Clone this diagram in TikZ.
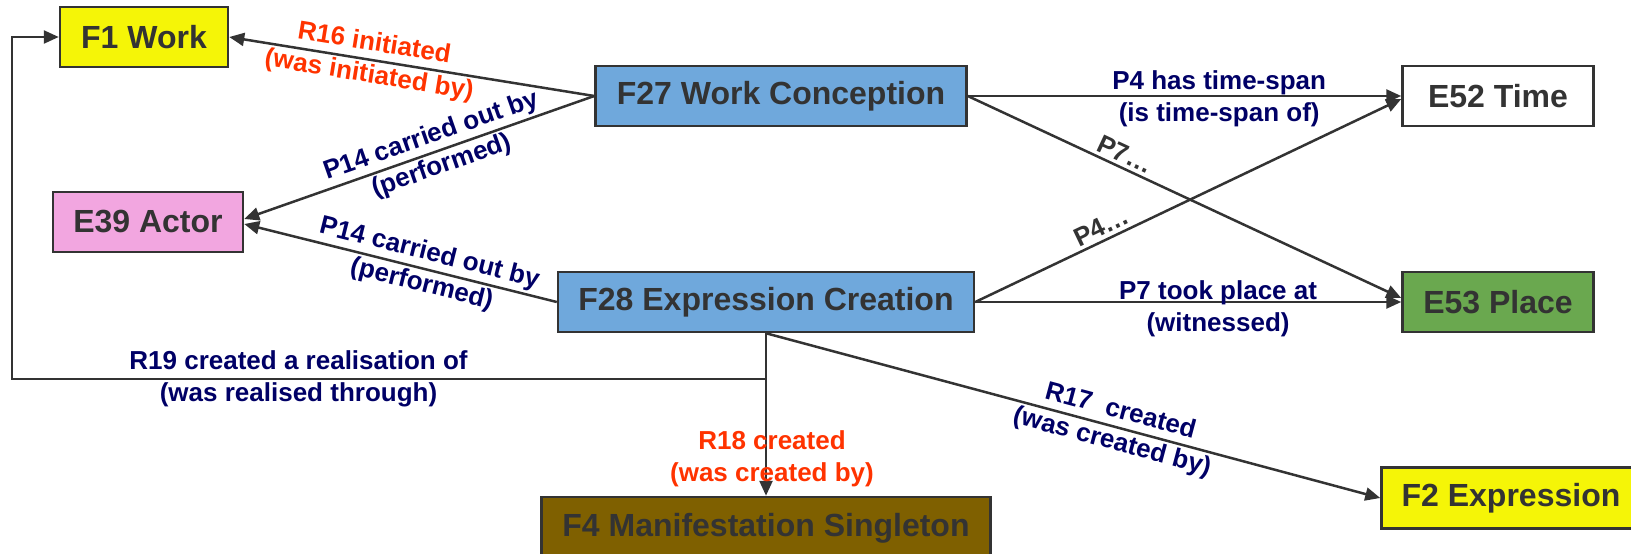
\documentclass[tikz,border=0pt]{standalone}
\usepackage{fontspec}
\setmainfont{Liberation Sans}
\usetikzlibrary{arrows.meta}

\definecolor{boxtext}{HTML}{333333}
\definecolor{navy}{HTML}{000066}
\definecolor{redorange}{HTML}{FF3300}
\definecolor{workyellow}{HTML}{F5F507}
\definecolor{actorpink}{HTML}{F2A6E0}
\definecolor{eventblue}{HTML}{6FA8DC}
\definecolor{placegreen}{HTML}{6AA84F}
\definecolor{manibrown}{HTML}{7F6000}

\begin{document}
\begin{tikzpicture}[x=1pt, y=-1pt,
  box/.style={draw=boxtext, line width=2.5pt, text=boxtext, inner sep=0pt,
    minimum height=60pt, font=\fontsize{32}{36}\selectfont\bfseries},
  rel/.style={text=navy, align=center, font=\fontsize{26}{32}\selectfont\bfseries},
  arr/.style={draw=boxtext, line width=2.5pt, -{Triangle[length=15pt,width=13pt]}}]

% Frame
\useasboundingbox (0,0) rectangle (1631,554);

% Classes
\node[box, fill=workyellow, minimum width=168pt] (F1) at (144,37) {F1 Work};
\node[box, fill=actorpink, minimum width=190pt] (E39) at (148,222) {E39 Actor};
\node[box, fill=eventblue, minimum width=371pt] (F27) at (781,96) {F27 Work Conception};
\node[box, fill=eventblue, minimum width=416pt] (F28) at (766,302) {F28 Expression Creation};
\node[box, fill=white, minimum width=191pt] (E52) at (1498,96) {E52 Time};
\node[box, fill=placegreen, minimum width=191pt] (E53) at (1498,302) {E53 Place};
\node[box, fill=manibrown, minimum width=449pt, minimum height=62pt] (F4) at (766,528) {F4 Manifestation Singleton};
\node[box, fill=workyellow, minimum width=259pt, minimum height=61pt] (F2) at (1511,498) {F2 Expression};

% Work conception
\draw[arr] (F27.west) -- (F1.east)
  node[rel, text=redorange, sloped, pos=0.61] (r16) {R16 initiated\\(was initiated by)};
\draw[arr] (F27.west) -- ([yshift=3pt]E39.east)
  node[rel, sloped, pos=0.45] (p14a) {P14 carried out by\\(performed)};
\draw[arr] (F27.east) -- (E52.west)
  node[rel, pos=0.58, yshift=-3pt] (p4a) {P4 has time-span\\(is time-span of)};
\draw[arr] (F27.east) -- ([yshift=4pt]E53.west)
  node[rel, text=boxtext, sloped, above, pos=0.35] (p7b) {P7\ldots};

% Expression creation
\draw[arr] (F28.west) -- ([yshift=-2pt]E39.east)
  node[rel, sloped, pos=0.42] (p14b) {P14 carried out by\\(performed)};
\draw[arr] (F28.east) -- ([yshift=-3pt]E52.west)
  node[rel, text=boxtext, sloped, above, pos=0.31] (p4b) {P4\ldots};
\draw[arr] (F28.east) -- (E53.west)
  node[rel, pos=0.57, yshift=-7pt] (p7a) {P7 took place at\\(witnessed)};
\draw[arr] (F28.south) -- (F4.north)
  node[rel, text=redorange, pos=0.74, xshift=6pt, yshift=-5pt] (r18) {R18 created\\(was created by)};
\draw[arr] (F28.south) -- (F2.west)
  node[rel, sloped, pos=0.57] (r17) {R17\ \ created\\(was created by)};

% Realisation loop
\coordinate (r19a) at (766,379);
\coordinate (r19b) at (12,379);
\coordinate (r19c) at (12,37);
\draw[arr] (F28.south) -- (r19a) -- (r19b)
  node[rel, pos=0.62] (r19) {R19 created a realisation of\\(was realised through)}
  -- (r19c) -- (F1.west);

\end{tikzpicture}
\end{document}
